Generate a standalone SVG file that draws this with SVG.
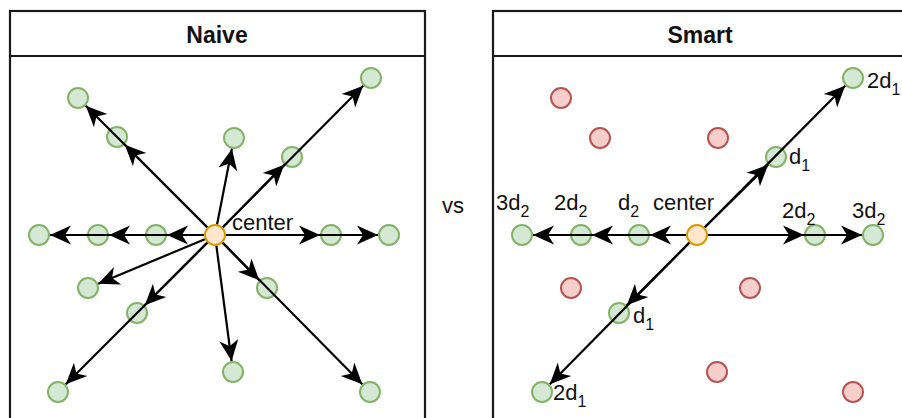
<svg xmlns="http://www.w3.org/2000/svg" width="902" height="418" viewBox="0 0 902 418">
  <defs>
    <marker id="arrow" markerUnits="userSpaceOnUse" markerWidth="24" markerHeight="22" viewBox="-23 -11 24 22" refX="0" refY="0" orient="auto">
      <path d="M0,0 L-21,-9.5 L-15,0 L-21,9.5 Z" fill="#000"/>
    </marker>
  </defs>
  <style>
    .panel { fill: #fff; stroke: #1a1a1a; stroke-width: 2.2; }
    .title { font-family: "Liberation Sans", Arial, sans-serif; font-size: 23px; font-weight: bold; fill: #111; text-anchor: middle; }
    .lbl { font-family: "Liberation Sans", Arial, sans-serif; font-size: 22px; fill: #111; }
    .sub { font-size: 16px; }
    .g { fill: #d5e8d4; stroke: #82b366; stroke-width: 2; }
    .r { fill: #f8cecc; stroke: #b85450; stroke-width: 2; }
    .o { fill: #ffe6cc; stroke: #d79b00; stroke-width: 2; }
    .edge { stroke: #000; stroke-width: 2.2; fill: none; marker-end: url(#arrow); }
  </style>

  <rect width="902" height="418" fill="#fff"/>

  <!-- panels -->
  <g id="panel-naive">
    <rect class="panel" x="10" y="11" width="415" height="430"/>
    <line x1="10" y1="56" x2="425" y2="56" stroke="#1a1a1a" stroke-width="2.2"/>
    <text class="title" x="217" y="43">Naive</text>
  </g>
  <g id="panel-smart">
    <rect class="panel" x="493" y="11" width="415" height="430"/>
    <line x1="493" y1="56" x2="908" y2="56" stroke="#1a1a1a" stroke-width="2.2"/>
    <text class="title" x="700" y="43">Smart</text>
  </g>

  <text id="vs" class="lbl" x="442" y="213">vs</text>

  <!-- naive search nodes -->
  <g id="naive-nodes">
    <circle id="n-center" class="o" cx="215" cy="235" r="10"/>
    <circle id="n-ul2" class="g" cx="78" cy="98" r="10"/>
    <circle id="n-ul1" class="g" cx="117" cy="137" r="10"/>
    <circle id="n-l3" class="g" cx="39" cy="235" r="10"/>
    <circle id="n-l2" class="g" cx="98" cy="235" r="10"/>
    <circle id="n-l1" class="g" cx="156" cy="235" r="10"/>
    <circle id="n-u" class="g" cx="234" cy="138" r="10"/>
    <circle id="n-ur1" class="g" cx="292" cy="157" r="10"/>
    <circle id="n-ur2" class="g" cx="371" cy="78" r="10"/>
    <circle id="n-r1" class="g" cx="331" cy="235" r="10"/>
    <circle id="n-r2" class="g" cx="389" cy="235" r="10"/>
    <circle id="n-wl" class="g" cx="88" cy="288" r="10"/>
    <circle id="n-dl1" class="g" cx="137" cy="313" r="10"/>
    <circle id="n-dl2" class="g" cx="58" cy="392" r="10"/>
    <circle id="n-d" class="g" cx="233" cy="372" r="10"/>
    <circle id="n-dr1" class="g" cx="267" cy="288" r="10"/>
    <circle id="n-dr2" class="g" cx="370" cy="392" r="10"/>
    <text class="lbl" x="232" y="230">center</text>
  </g>

  <!-- smart search nodes -->
  <g id="smart-nodes">
    <circle id="s-x1" class="r" cx="561" cy="98" r="10"/>
    <circle id="s-x2" class="r" cx="600" cy="138" r="10"/>
    <circle id="s-x3" class="r" cx="718" cy="138" r="10"/>
    <circle id="s-x4" class="r" cx="571" cy="288" r="10"/>
    <circle id="s-x5" class="r" cx="750" cy="288" r="10"/>
    <circle id="s-x6" class="r" cx="717" cy="372" r="10"/>
    <circle id="s-x7" class="r" cx="853" cy="392" r="10"/>
    <circle id="s-center" class="o" cx="697" cy="235" r="10"/>
    <circle id="s-l3" class="g" cx="522" cy="235" r="10"/>
    <circle id="s-l2" class="g" cx="581" cy="235" r="10"/>
    <circle id="s-l1" class="g" cx="639" cy="235" r="10"/>
    <circle id="s-r2" class="g" cx="815" cy="235" r="10"/>
    <circle id="s-r3" class="g" cx="873" cy="235" r="10"/>
    <circle id="s-ur1" class="g" cx="776" cy="157" r="10"/>
    <circle id="s-ur2" class="g" cx="853" cy="78" r="10"/>
    <circle id="s-dl1" class="g" cx="619" cy="313" r="10"/>
    <circle id="s-dl2" class="g" cx="542" cy="392" r="10"/>
    <text class="lbl" x="653" y="210">center</text>
    <text class="lbl" x="496" y="210">3d<tspan class="sub" dy="7">2</tspan></text>
    <text class="lbl" x="554" y="210">2d<tspan class="sub" dy="7">2</tspan></text>
    <text class="lbl" x="618" y="210">d<tspan class="sub" dy="7">2</tspan></text>
    <text class="lbl" x="782" y="218">2d<tspan class="sub" dy="7">2</tspan></text>
    <text class="lbl" x="852" y="218">3d<tspan class="sub" dy="7">2</tspan></text>
    <text class="lbl" x="789" y="164">d<tspan class="sub" dy="7">1</tspan></text>
    <text class="lbl" x="867" y="88">2d<tspan class="sub" dy="7">1</tspan></text>
    <text class="lbl" x="633" y="323">d<tspan class="sub" dy="7">1</tspan></text>
    <text class="lbl" x="553" y="400">2d<tspan class="sub" dy="7">1</tspan></text>
  </g>

  <!-- connectors -->
  <g id="connectors">
    <!-- naive -->
    <line class="edge" x1="207.2" y1="227.2" x2="85.8" y2="105.8"/>
    <line class="edge" x1="207.2" y1="227.2" x2="124.8" y2="144.8"/>
    <line class="edge" x1="204" y1="235" x2="50" y2="235"/>
    <line class="edge" x1="204" y1="235" x2="109" y2="235"/>
    <line class="edge" x1="204" y1="235" x2="167" y2="235"/>
    <line class="edge" x1="217.1" y1="224.2" x2="231.9" y2="148.8"/>
    <line class="edge" x1="222.8" y1="227.2" x2="363.2" y2="85.8"/>
    <line class="edge" x1="222.8" y1="227.2" x2="284.2" y2="164.8"/>
    <line class="edge" x1="226" y1="235" x2="320" y2="235"/>
    <line class="edge" x1="226" y1="235" x2="378" y2="235"/>
    <line class="edge" x1="204.8" y1="239.2" x2="98.2" y2="283.8"/>
    <line class="edge" x1="207.2" y1="242.8" x2="65.8" y2="384.2"/>
    <line class="edge" x1="207.2" y1="242.8" x2="144.8" y2="305.2"/>
    <line class="edge" x1="216.4" y1="245.9" x2="231.6" y2="361.1"/>
    <line class="edge" x1="222.7" y1="242.8" x2="362.3" y2="384.2"/>
    <line class="edge" x1="222.7" y1="242.8" x2="259.3" y2="280.2"/>
    <!-- smart -->
    <line class="edge" x1="704.8" y1="227.2" x2="845.2" y2="85.8"/>
    <line class="edge" x1="704.8" y1="227.2" x2="768.2" y2="164.8"/>
    <line class="edge" x1="686" y1="235" x2="533" y2="235"/>
    <line class="edge" x1="686" y1="235" x2="592" y2="235"/>
    <line class="edge" x1="686" y1="235" x2="650" y2="235"/>
    <line class="edge" x1="708" y1="235" x2="804" y2="235"/>
    <line class="edge" x1="708" y1="235" x2="862" y2="235"/>
    <line class="edge" x1="689.3" y1="242.8" x2="549.8" y2="384.2"/>
    <line class="edge" x1="689.3" y1="242.8" x2="626.8" y2="305.2"/>
  </g>
</svg>
